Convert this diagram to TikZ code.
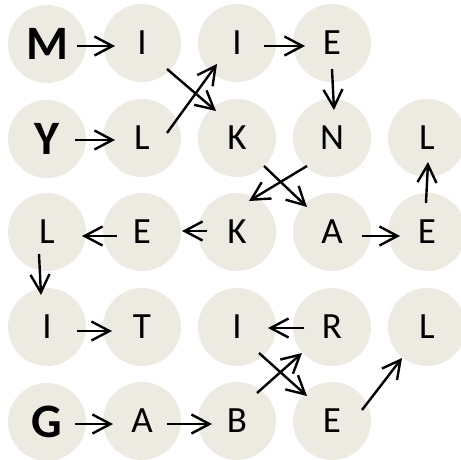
\documentclass[tikz,border=0pt]{standalone}
\usepackage{fontspec}
\setmainfont{Carlito}
\usetikzlibrary{arrows.meta}
\definecolor{disc}{RGB}{236,234,225}
\begin{document}
\begin{tikzpicture}[x=1pt,y=-1pt,
  cell/.style={circle,fill=disc,minimum size=78pt,inner sep=0pt,font=\fontsize{37}{40}\selectfont},
  start/.style={cell,font=\fontsize{48}{52}\selectfont\bfseries},
  arr/.style={line width=2.4pt,-{Straight Barb[length=18pt,width=19pt,line width=2.4pt]}}]
\useasboundingbox (0,0) rectangle (461,459);
% row 1
\node[start] (n11) at (47,44) {M};
\node[cell] (n12) at (142,43) {I};
\node[cell] (n13) at (237,43) {I};
\node[cell] (n14) at (332,43) {E};
% row 2
\node[start] (n21) at (47,139) {Y};
\node[cell] (n22) at (142,138) {L};
\node[cell] (n23) at (237,138) {K};
\node[cell] (n24) at (332,138) {N};
\node[cell] (n25) at (427,138) {L};
% row 3
\node[cell] (n31) at (47,232) {L};
\node[cell] (n32) at (142,232) {E};
\node[cell] (n33) at (237,232) {K};
\node[cell] (n34) at (332,232) {A};
\node[cell] (n35) at (427,232) {E};
% row 4
\node[cell] (n41) at (47,327) {I};
\node[cell] (n42) at (142,327) {T};
\node[cell] (n43) at (237,327) {I};
\node[cell] (n44) at (332,327) {R};
\node[cell] (n45) at (427,327) {L};
% row 5
\node[start] (n51) at (47,422) {G};
\node[cell] (n52) at (142,421) {A};
\node[cell] (n53) at (237,421) {B};
\node[cell] (n54) at (332,421) {E};
% arrows
\draw[arr] ([shift={(30,2)}]n11.center) -- ([shift={(-27,3)}]n12.center);
\draw[arr] ([shift={(28,1)}]n21.center) -- ([shift={(-27,2)}]n22.center);
\draw[arr] ([shift={(25,26)}]n12.center) -- ([shift={(-21,-27)}]n23.center);
\draw[arr] ([shift={(25,-5)}]n22.center) -- ([shift={(-20,21)}]n13.center);
\draw[arr] ([shift={(27,3)}]n13.center) -- ([shift={(-27,3)}]n14.center);
\draw[arr] ([shift={(0,26)}]n14.center) -- ([shift={(2,-28)}]n24.center);
\draw[arr] ([shift={(-25,28)}]n24.center) -- ([shift={(12,-31)}]n33.center);
\draw[arr] ([shift={(27,28)}]n23.center) -- ([shift={(-25,-25)}]n34.center);
\draw[arr] ([shift={(-1,-29)}]n35.center) -- ([shift={(1,24)}]n25.center);
\draw[arr] ([shift={(30,4)}]n34.center) -- ([shift={(-27,4)}]n35.center);
\draw[arr] ([shift={(-30,-1)}]n33.center) -- ([shift={(40,-1)}]n32.center);
\draw[arr] ([shift={(-25,4)}]n32.center) -- ([shift={(35,4)}]n31.center);
\draw[arr] ([shift={(-8,22)}]n31.center) -- ([shift={(-6,-32)}]n41.center);
\draw[arr] ([shift={(30,4)}]n41.center) -- ([shift={(-30,4)}]n42.center);
\draw[arr] ([shift={(-28,1)}]n44.center) -- ([shift={(31,1)}]n43.center);
\draw[arr] ([shift={(22,26)}]n43.center) -- ([shift={(-25,-25)}]n54.center);
\draw[arr] ([shift={(20,-28)}]n53.center) -- ([shift={(-30,26)}]n44.center);
\draw[arr] ([shift={(30,-11)}]n54.center) -- ([shift={(-25,31)}]n45.center);
\draw[arr] ([shift={(28,2)}]n51.center) -- ([shift={(-29,3)}]n52.center);
\draw[arr] ([shift={(25,3)}]n52.center) -- ([shift={(-25,3)}]n53.center);
\end{tikzpicture}
\end{document}
